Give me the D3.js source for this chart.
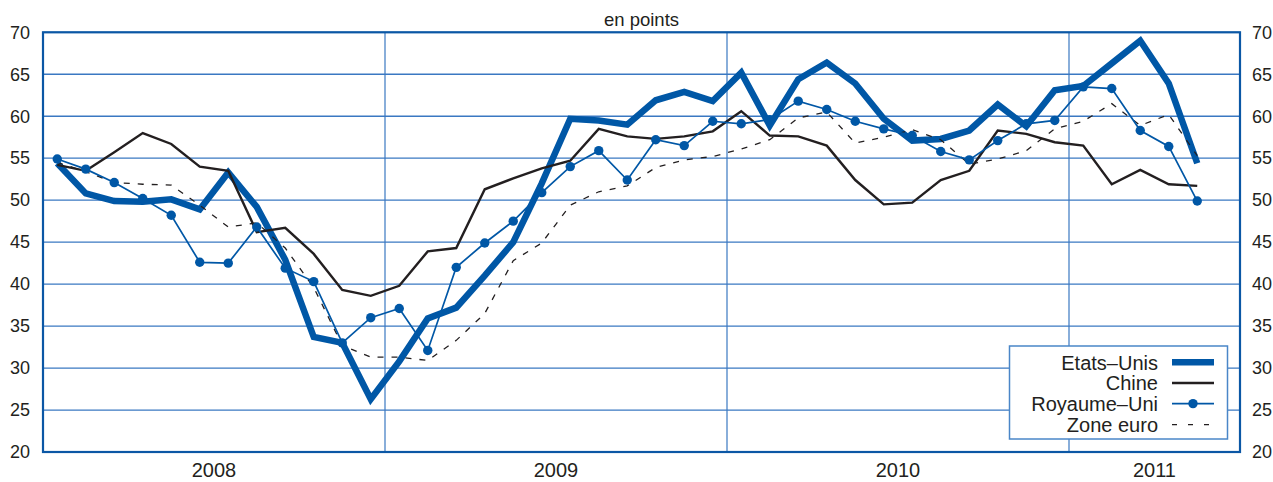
<!DOCTYPE html>
<html>
<head>
<meta charset="utf-8">
<script src="https://cdn.jsdelivr.net/npm/d3@7"></script>
<style>
  html, body { margin: 0; padding: 0; background: #fff; }
  svg { display: block; font-family: "Liberation Sans", Arial, Helvetica, sans-serif; }
</style>
</head>
<body>
<svg id="chart" width="1273" height="482"></svg>
<script>
// Monthly data, Jan 2008 – May 2011 (41 months)
const years = ["2008", "2009", "2010", "2011"];
const yTicks = [20, 25, 30, 35, 40, 45, 50, 55, 60, 65, 70];
const seriesNames = ["Etats\u2013Unis", "Chine", "Royaume\u2013Uni", "Zone euro"];

const etatsUnis = [54.4, 50.8, 49.9, 49.8, 50.1, 48.9, 53.3, 49.2, 42.9, 33.7, 33.0, 26.3,
                   30.8, 35.9, 37.2, 41.0, 45.0, 52.0, 59.7, 59.5, 59.0, 61.9, 62.9, 61.8,
                   65.2, 58.9, 64.4, 66.4, 63.9, 59.7, 57.1, 57.3, 58.3, 61.4, 58.8, 63.1,
                   63.6, 66.3, 69.0, 63.9, 54.4];
const chine = [54.2, 53.5, 55.7, 58.0, 56.7, 54.0, 53.5, 46.2, 46.7, 43.6, 39.3, 38.6,
               39.8, 43.9, 44.3, 51.3, 52.6, 53.8, 54.7, 58.5, 57.6, 57.3, 57.6, 58.2,
               60.6, 57.7, 57.6, 56.5, 52.4, 49.5, 49.7, 52.4, 53.5, 58.3, 57.9, 56.9,
               56.5, 51.9, 53.6, 51.9, 51.7];
const royaumeUni = [54.9, 53.7, 52.1, 50.2, 48.2, 42.6, 42.5, 46.8, 41.9, 40.3, 33.0, 36.0,
                    37.1, 32.1, 42.0, 44.9, 47.5, 50.9, 54.0, 55.9, 52.4, 57.2, 56.5, 59.4,
                    59.1, 59.6, 61.8, 60.8, 59.4, 58.5, 57.7, 55.8, 54.8, 57.1, 59.1, 59.5,
                    63.5, 63.3, 58.3, 56.4, 49.9];
const zoneEuro = [54.5, 53.4, 52.1, 51.9, 51.8, 49.4, 46.8, 47.3, 44.3, 39.6, 32.7, 31.3,
                  31.3, 30.9, 33.3, 36.5, 42.8, 44.9, 49.4, 51.0, 51.7, 53.9, 54.8, 55.2,
                  56.1, 57.2, 59.8, 60.5, 56.8, 57.5, 58.4, 57.2, 54.3, 54.9, 55.9, 58.5,
                  59.4, 61.5, 58.9, 60.2, 55.3];

const svg = d3.select("#chart");
const L = 43, R = 1240, T = 32.3, B = 452;
const BLUE = "#0057a6";
const GRID = "#3a78c2";
const TEXT = "#231f20";

// x: month index (0 = Jan 2008), domain covers Jan 2008 – Jun 2011
const x = d3.scaleLinear().domain([0, 42]).range([L, R]);
const y = d3.scaleLinear().domain([20, 70]).range([B, T]);

// horizontal grid
svg.append("g").selectAll("line").data(yTicks).join("line")
  .attr("x1", L).attr("x2", R)
  .attr("y1", d => y(d)).attr("y2", d => y(d))
  .attr("stroke", GRID).attr("stroke-width", 1.3);

// vertical year separators
svg.append("g").selectAll("line").data([12, 24, 36]).join("line")
  .attr("x1", d => x(d)).attr("x2", d => x(d))
  .attr("y1", T).attr("y2", B)
  .attr("stroke", GRID).attr("stroke-width", 1.2);

// axes labels
const axL = svg.append("g").attr("transform", `translate(${L},0)`)
  .call(d3.axisLeft(y).tickValues(yTicks).tickSize(0).tickPadding(13));
const axR = svg.append("g").attr("transform", `translate(${R},0)`)
  .call(d3.axisRight(y).tickValues(yTicks).tickSize(0).tickPadding(12));
[axL, axR].forEach(a => {
  a.select(".domain").remove();
  a.selectAll("text").attr("font-size", 18).attr("fill", TEXT)
    .attr("font-family", "'Liberation Sans', Arial, sans-serif");
});

// year labels centred on visible span
const yearSpan = [[0, 12], [12, 24], [24, 36], [36, 42]];
svg.append("g").selectAll("text").data(years).join("text")
  .attr("x", (d, i) => x((yearSpan[i][0] + yearSpan[i][1]) / 2))
  .attr("y", 477)
  .attr("text-anchor", "middle")
  .attr("font-size", 20).attr("fill", TEXT)
  .text(d => d);

// title
svg.append("text").attr("x", (L + R) / 2).attr("y", 26)
  .attr("text-anchor", "middle").attr("font-size", 18.5).attr("fill", TEXT)
  .text("en points");

const line = d3.line().x((d, i) => x(i + 0.5)).y(d => y(d)).curve(d3.curveLinear);

// Etats-Unis (thick)
svg.append("path").datum(etatsUnis).attr("d", line)
  .attr("fill", "none").attr("stroke", BLUE).attr("stroke-width", 6.5)
  .attr("stroke-linejoin", "miter").attr("stroke-miterlimit", 3);

// Zone euro (dashed)
svg.append("path").datum(zoneEuro).attr("d", line)
  .attr("fill", "none").attr("stroke", TEXT).attr("stroke-width", 1.3)
  .attr("stroke-dasharray", "6,8");

// Chine
svg.append("path").datum(chine).attr("d", line)
  .attr("fill", "none").attr("stroke", TEXT).attr("stroke-width", 2.4);

// Royaume-Uni
svg.append("path").datum(royaumeUni).attr("d", line)
  .attr("fill", "none").attr("stroke", BLUE).attr("stroke-width", 1.7);
svg.append("g").selectAll("circle").data(royaumeUni).join("circle")
  .attr("cx", (d, i) => x(i + 0.5)).attr("cy", d => y(d)).attr("r", 4.7)
  .attr("fill", BLUE);

// frame
svg.append("rect").attr("x", L).attr("y", T).attr("width", R - L).attr("height", B - T)
  .attr("fill", "none").attr("stroke", "#0b57a5").attr("stroke-width", 2.2);

// legend
const lg = svg.append("g");
lg.append("rect").attr("x", 1009.5).attr("y", 346).attr("width", 218).attr("height", 93)
  .attr("fill", "#fff").attr("stroke", "#4a86c8").attr("stroke-width", 1.5);
const rowsY = [362.3, 383, 403.6, 424.6];
lg.selectAll("text").data(seriesNames).join("text")
  .attr("x", 1158).attr("y", (d, i) => rowsY[i] + 7.2)
  .attr("text-anchor", "end").attr("font-size", 20).attr("fill", TEXT)
  .text(d => d);
const sx1 = 1172, sx2 = 1214;
lg.append("line").attr("x1", sx1).attr("x2", sx2).attr("y1", rowsY[0]).attr("y2", rowsY[0])
  .attr("stroke", BLUE).attr("stroke-width", 6.5);
lg.append("line").attr("x1", sx1).attr("x2", sx2).attr("y1", rowsY[1]).attr("y2", rowsY[1])
  .attr("stroke", TEXT).attr("stroke-width", 2.4);
lg.append("line").attr("x1", sx1).attr("x2", sx2).attr("y1", rowsY[2]).attr("y2", rowsY[2])
  .attr("stroke", BLUE).attr("stroke-width", 1.7);
lg.append("circle").attr("cx", (sx1 + sx2) / 2).attr("cy", rowsY[2]).attr("r", 4.7).attr("fill", BLUE);
lg.append("line").attr("x1", sx1).attr("x2", sx2).attr("y1", rowsY[3]).attr("y2", rowsY[3])
  .attr("stroke", TEXT).attr("stroke-width", 1.3).attr("stroke-dasharray", "5,11");
</script>
</body>
</html>
